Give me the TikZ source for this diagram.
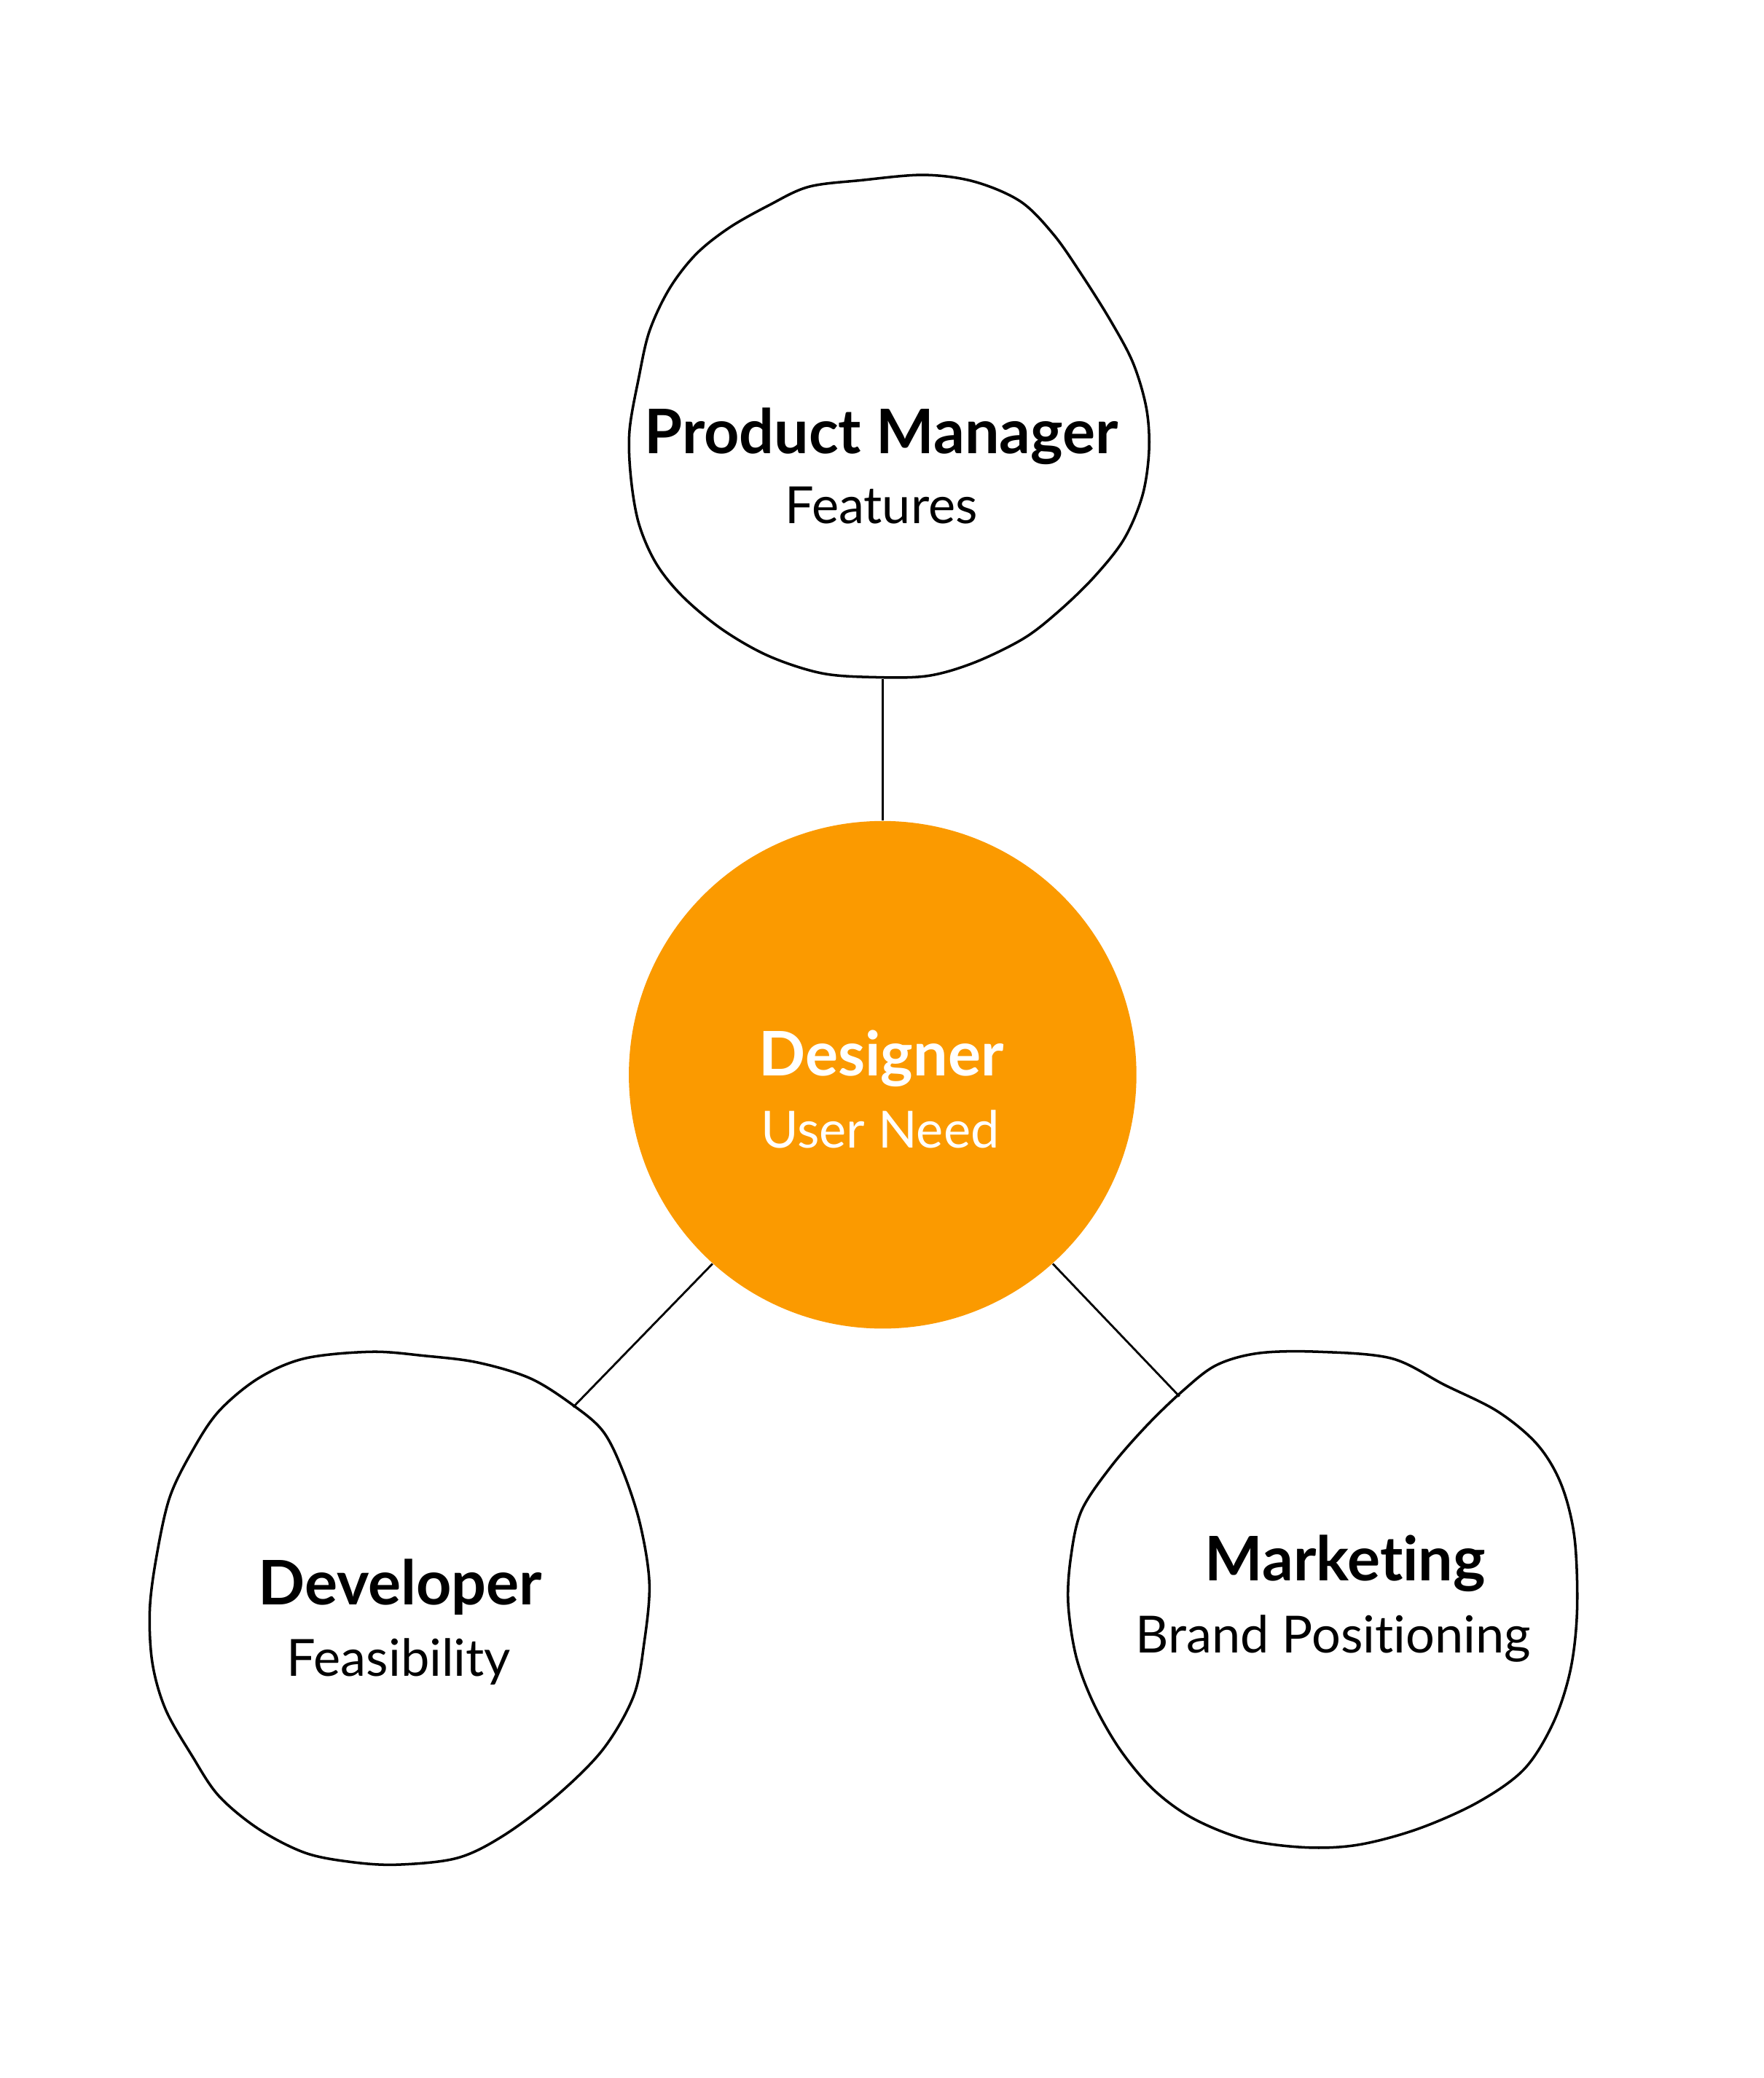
\documentclass[tikz,border=0pt]{standalone}
\usepackage{fontspec}
\setmainfont{Lato}[Ligatures=NoCommon]
\usetikzlibrary{positioning}
\definecolor{designorange}{RGB}{251,154,0}
\newcommand{\pxu}{0.01819cm}
\tikzset{
  role/.style={circle, inner sep=0pt, minimum size=#1*\pxu},
  blob/.style={line width=1pt, line join=round},
  link/.style={line width=0.8pt},
  title/.style={anchor=base, font=\fontsize{24}{29}\selectfont\bfseries},
  task/.style={anchor=base, font=\fontsize{20}{24}\selectfont}
}
\begin{document}
\begin{tikzpicture}[x=\pxu, y=-\pxu]
    \useasboundingbox (0,0) rectangle (1331,1568);
    % role nodes
    \node[role=383, fill=designorange] (des) at (666,811) {};
    \node[role=380] (pm) at (666,322) {};
    \node[role=400] (dev) at (301,1213) {};
    \node[role=376] (mkt) at (998,1208) {};
    % hand drawn outlines
    \draw[blob] plot[smooth cycle, tension=0.55] coordinates {
        (697,132) (650,136) (610,141) (580,155) (550,172) (525,192) (505,218)
        (490,250) (482,285) (475,325) (476,360) (482,395) (495,425) (515,450)
        (545,475) (580,495) (620,508) (660,511) (700,510) (735,500) (772,482)
        (798,462) (825,436) (848,407) (862,374) (867,340) (865,308) (855,274)
        (838,242) (816,207) (795,177) (770,152) (735,137)};
    \draw[blob] plot[smooth cycle, tension=0.55] coordinates {
        (280,1020) (230,1025) (195,1040) (165,1065) (145,1095) (128,1130)
        (118,1175) (113,1215) (115,1255) (125,1290) (145,1325) (165,1355)
        (195,1380) (230,1398) (265,1405) (300,1407) (345,1402) (380,1385)
        (420,1355) (455,1320) (478,1280) (486,1240) (490,1195) (483,1150)
        (470,1110) (455,1080) (432,1060) (400,1040) (360,1028) (320,1023)};
    \draw[blob] plot[smooth cycle, tension=0.55] coordinates {
        (995,1020) (950,1021) (918,1030) (893,1049) (865,1076) (838,1107)
        (816,1140) (808,1175) (806,1210) (812,1250) (825,1285) (845,1320)
        (870,1350) (900,1372) (940,1388) (985,1394) (1025,1392) (1070,1380)
        (1115,1360) (1150,1335) (1172,1300) (1185,1260) (1190,1215) (1188,1160)
        (1178,1120) (1160,1090) (1130,1065) (1090,1045) (1050,1025)};
    % connectors
    \draw[link] (des.north) -- (pm.south);
    \draw[link] (des.-132) -- (dev.49);
    \draw[link] (des.-48.7) -- (mkt.125.7);
    % labels
    \node[title] (pmtitle) at (665,342) {Product Manager};
    \node[task] (pmtask) at (665,395) {Features};
    \node[title, text=white] (destitle) at (665,812) {Designer};
    \node[task, text=white] (destask) at (664,866) {User Need};
    \node[title] (devtitle) at (302,1211) {Developer};
    \node[task] (devtask) at (301,1265) {Feasibility};
    \node[title] (mkttitle) at (1015,1193) {Marketing};
    \node[task] (mkttask) at (1006,1247) {Brand Positioning};
\end{tikzpicture}
\end{document}
